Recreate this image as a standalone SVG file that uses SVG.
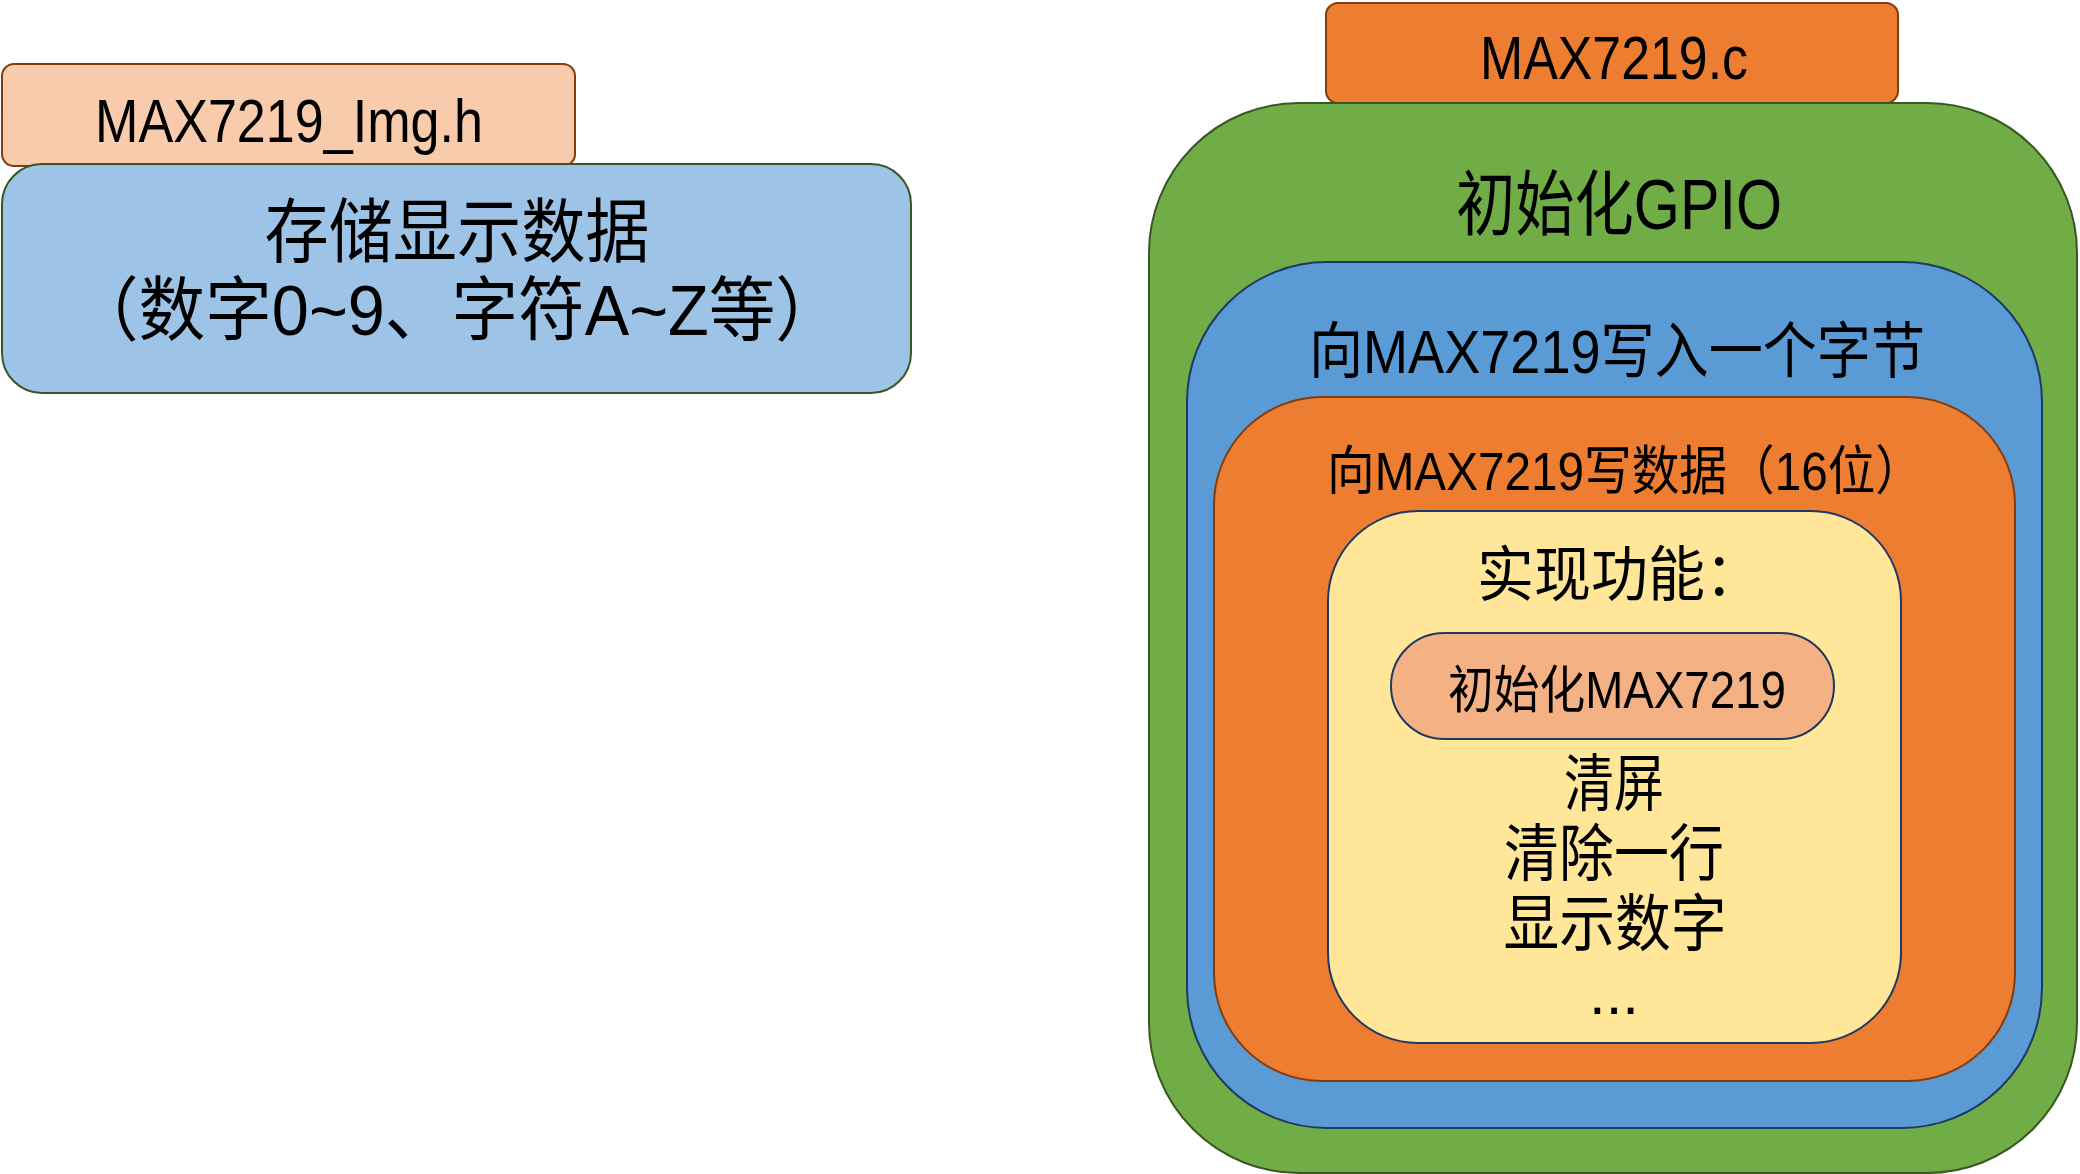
<svg xmlns="http://www.w3.org/2000/svg" width="2080" height="1174" viewBox="0 0 2080 1174">
<style>
.t{font-family:"Liberation Sans","Noto Sans CJK SC",sans-serif;fill:#000;}
.s{stroke-width:2;}
</style>
<rect width="2080" height="1174" fill="#fff"/>
<g id="img-h-title">
<rect class="s" x="2" y="64" width="573" height="102" rx="12" fill="#F8CBAD" stroke="#843C0C"/>
<text class="t" x="95" y="142" font-size="61" textLength="388" lengthAdjust="spacingAndGlyphs">MAX7219_Img.h</text>
</g>
<g id="img-h-body">
<rect class="s" x="2" y="164" width="909" height="229" rx="40" fill="#9DC3E6" stroke="#385723"/>
<text class="t" x="457" y="257" font-size="70" text-anchor="middle" textLength="385" lengthAdjust="spacingAndGlyphs">存储显示数据</text>
<text class="t" x="457" y="335" font-size="70" text-anchor="middle" textLength="770" lengthAdjust="spacingAndGlyphs">（数字0~9、字符A~Z等）</text>
</g>
<g id="c-title">
<rect class="s" x="1326" y="3" width="572" height="100" rx="12" fill="#ED7D31" stroke="#843C0C"/>
<text class="t" x="1480" y="79" font-size="61" textLength="268" lengthAdjust="spacingAndGlyphs">MAX7219.c</text>
</g>
<g id="gpio">
<rect class="s" x="1149" y="103" width="928" height="1070" rx="150" fill="#70AD47" stroke="#385723"/>
<text class="t" x="1456" y="229" font-size="71" textLength="326" lengthAdjust="spacingAndGlyphs">初始化GPIO</text>
</g>
<g id="write-byte">
<rect class="s" x="1187" y="262" width="855" height="866" rx="140" fill="#5B9BD5" stroke="#1F3864"/>
<text class="t" x="1309" y="373" font-size="61" textLength="616" lengthAdjust="spacingAndGlyphs">向MAX7219写入一个字节</text>
</g>
<g id="write-data">
<rect class="s" x="1214" y="397" width="801" height="684" rx="108" fill="#ED7D31" stroke="#843C0C"/>
<text class="t" x="1327" y="490" font-size="53" textLength="596" lengthAdjust="spacingAndGlyphs">向MAX7219写数据（16位）</text>
</g>
<g id="functions">
<rect class="s" x="1328" y="511" width="573" height="532" rx="90" fill="#FFE699" stroke="#1F3864"/>
<text class="t" x="1477" y="596" font-size="60" textLength="285" lengthAdjust="spacingAndGlyphs">实现功能：</text>
<text class="t" x="1614" y="806" font-size="62" text-anchor="middle" textLength="100" lengthAdjust="spacingAndGlyphs">清屏</text>
<text class="t" x="1614" y="876" font-size="62" text-anchor="middle" textLength="220" lengthAdjust="spacingAndGlyphs">清除一行</text>
<text class="t" x="1615" y="946" font-size="62" text-anchor="middle" textLength="223" lengthAdjust="spacingAndGlyphs">显示数字</text>
<text class="t" x="1614" y="1014" font-size="60" text-anchor="middle">...</text>
</g>
<g id="init-max">
<rect class="s" x="1391" y="633" width="443" height="106" rx="53" fill="#F4B183" stroke="#1F3864"/>
<text class="t" x="1448" y="708" font-size="51" textLength="338" lengthAdjust="spacingAndGlyphs">初始化MAX7219</text>
</g>
<g id="connectors"></g>
</svg>
